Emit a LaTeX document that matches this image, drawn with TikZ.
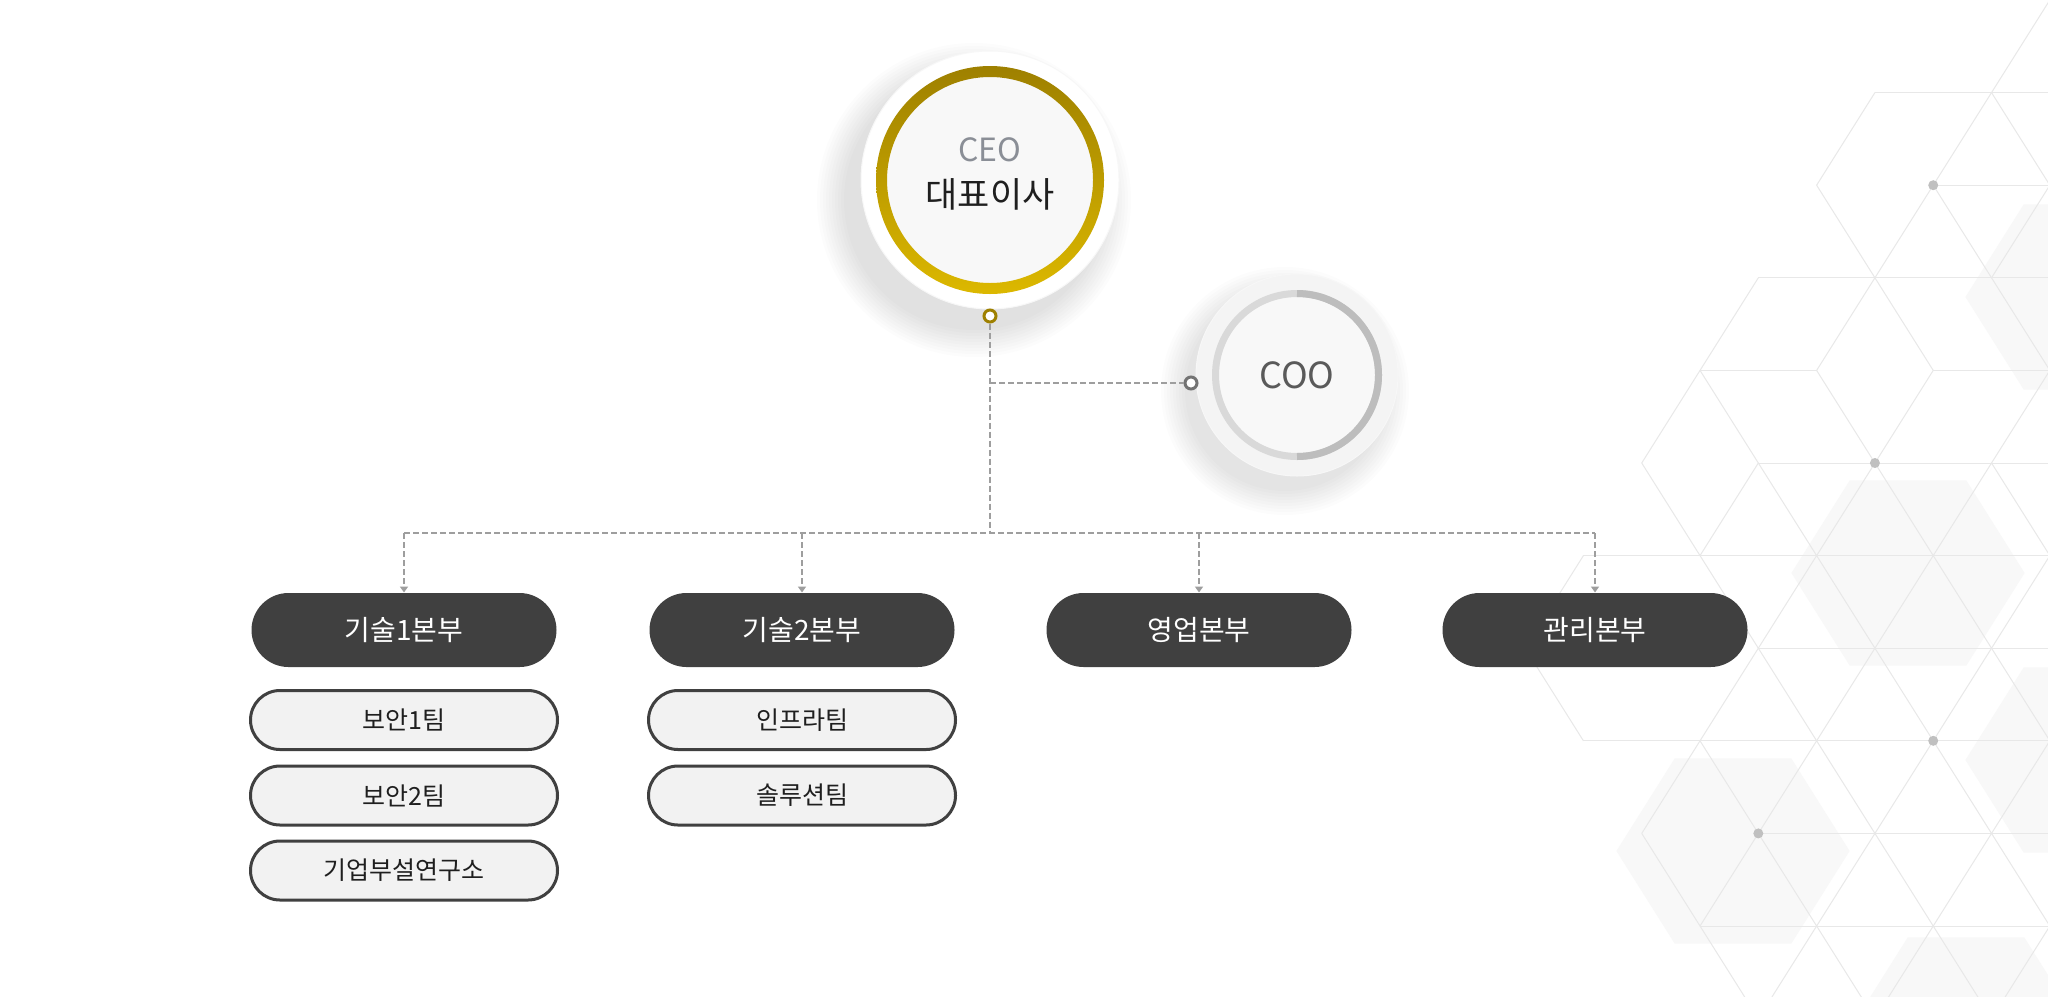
\documentclass[tikz,border=0pt]{standalone}
\usepackage{fontspec}
\setmainfont{Noto Sans CJK KR}
\usetikzlibrary{arrows.meta}

\definecolor{gold1}{RGB}{158,128,0}
\definecolor{gold2}{RGB}{220,184,0}
\definecolor{pilldark}{RGB}{64,64,64}
\definecolor{pilllight}{RGB}{242,242,242}
\definecolor{dashgray}{RGB}{158,158,158}
\definecolor{hexgray}{RGB}{232,232,232}
\definecolor{hexfill}{RGB}{248,248,248}
\definecolor{dotgray}{RGB}{192,192,192}
\definecolor{ceogray}{RGB}{138,142,150}
\definecolor{ceofill}{RGB}{248,248,248}
\definecolor{coofill}{RGB}{244,244,244}
\definecolor{cootext}{RGB}{90,90,90}

\tikzset{every picture/.style={line width=0.5pt},
  bonbu/.style={fill=pilldark, text=white, minimum width=152.5pt, minimum height=37pt, rounded corners=18.5pt, inner sep=0pt, font=\fontsize{14}{16}\selectfont},
  team/.style={draw=pilldark, line width=1.5pt, fill=pilllight, text=black!88, minimum width=153.5pt, minimum height=29.5pt, rounded corners=14.75pt, inner sep=0pt, font=\fontsize{12.5}{14}\selectfont},
  orgline/.style={dashgray, line width=0.75pt, dash pattern=on 3pt off 1.5pt},
  orgarrow/.style={orgline, -{Triangle[width=4pt,length=3pt]}},
  knot/.style={circle, draw, fill=white, line width=1.5pt, minimum size=6pt, inner sep=0pt},
  hexline/.style={hexgray, line width=0.5pt}}

\begin{document}
\begin{tikzpicture}[x=0.5pt,y=0.5pt,yscale=-1]
  \useasboundingbox (0,0) rectangle (2048,996);
  \fill[white] (0,0) rectangle (2048,996);

  % hexagon background
  \begin{scope}
    \clip (0,0) rectangle (2048,996);
    \foreach \cx/\cy in {2082/297, 1908/573, 1733/851, 2082/760, 1966/1030, 2140/1030}
      \fill[hexfill] (\cx+116.6,\cy) -- (\cx+58.3,\cy+92.6) -- (\cx-58.3,\cy+92.6) -- (\cx-116.6,\cy) -- (\cx-58.3,\cy-92.6) -- (\cx+58.3,\cy-92.6) -- cycle;
    \foreach \r in {5,...,11}{
      \pgfmathtruncatemacro\ks{mod(\r,2)}
      \foreach \i in {0,...,4}{
        \pgfmathtruncatemacro\k{\ks+2*\i}
        \draw[hexline] ({1700+58.3*\k},{92.6*\r}) -- ({1700+58.3*(\k+2)},{92.6*\r});
        \draw[hexline] ({1700+58.3*\k},{92.6*\r}) -- ({1700+58.3*(\k+1)},{92.6*(\r+1)});
        \ifnum\k>0 \draw[hexline] ({1700+58.3*\k},{92.6*\r}) -- ({1700+58.3*(\k-1)},{92.6*(\r+1)}); \fi
      }
    }
    \foreach \ka/\ra/\kb/\rb in {6/0/5/1, 6/0/7/1, 3/1/5/1, 5/1/7/1, 3/1/2/2, 5/1/4/2, 5/1/6/2, 7/1/6/2, 7/1/8/2,
        4/2/6/2, 6/2/8/2, 2/2/3/3, 4/2/3/3, 4/2/5/3, 6/2/5/3, 6/2/7/3, 8/2/7/3,
        1/3/3/3, 3/3/5/3, 5/3/7/3, 7/3/9/3, 1/3/0/4, 3/3/2/4, 3/3/4/4, 5/3/6/4, 7/3/6/4, 7/3/8/4,
        0/4/2/4, 4/4/6/4, 6/4/8/4, 0/4/1/5, 2/4/3/5, 4/4/3/5, 6/4/5/5, 6/4/7/5, 8/4/7/5, 0/4/-1/5,
        -1/5/0/6, -2/6/0/6, -2/6/-3/7, -3/7/-2/8, -2/8/0/8, 0/8/-1/9, -1/9/0/10}
      \draw[hexline] ({1700+58.3*\ka},{92.6*\ra}) -- ({1700+58.3*\kb},{92.6*\rb});
    \foreach \k/\r in {4/2, 3/5, 4/8, 1/9}
      \fill[dotgray] ({1700+58.3*\k},{92.6*\r}) circle (5);
  \end{scope}

  % CEO
  \coordinate (ceoc) at (990,180);
  \foreach \s in {0,...,9}
    \fill[black, opacity=0.01] ([shift={(-16,20)}]ceoc) circle ({130+3*\s});
  \fill[white] (ceoc) circle (129);
  \draw[black!3] (ceoc) circle (129);
  \node[circle, fill=ceofill, minimum size=103pt, inner sep=0pt] (ceo) at (ceoc) {};
  \shade[even odd rule, top color=gold1, bottom color=gold2] (ceoc) circle (114) (ceoc) circle (103);
  \node[text=ceogray, font=\fontsize{16}{18}\selectfont] (ceotitle) at (990,150) {CEO};
  \node[text=black!88, font=\fontsize{17.5}{20}\selectfont] (ceoname) at (990,194) {대표이사};

  % COO
  \coordinate (cooc) at (1297,375);
  \foreach \s in {0,...,8}
    \fill[black, opacity=0.01] ([shift={(-12,16)}]cooc) circle ({100+3*\s});
  \fill[coofill] (cooc) circle (101);
  \draw[black!3] (cooc) circle (101);
  \node[circle, fill=ceofill, minimum size=78pt, inner sep=0pt, text=cootext, font=\fontsize{18}{20}\selectfont] (coo) at (cooc) {COO};
  \draw[line width=3.5pt, black!15] (cooc) circle (81.5);
  \draw[line width=3.5pt, black!26] ([shift={(90:81.5)}]cooc) arc[start angle=90, end angle=-90, radius=81.5];

  \node[knot, draw=gold1] (ceodot) at (990,316) {};
  \node[knot, draw=black!55] (coodot) at (1191,383) {};

  \node[bonbu] (tech1) at (404,630) {기술1본부};
  \node[bonbu] (tech2) at (802,630) {기술2본부};
  \node[bonbu] (sales) at (1199,630) {영업본부};
  \node[bonbu] (admin) at (1595,630) {관리본부};

  \node[team] (sec1) at (404,720) {보안1팀};
  \node[team] (sec2) at (404,795.5) {보안2팀};
  \node[team] (lab) at (404,870.5) {기업부설연구소};
  \node[team] (infra) at (802,720) {인프라팀};
  \node[team] (solution) at (802,795.5) {솔루션팀};

  \coordinate (trunk) at (990,533);
  \draw[orgline] (ceodot) -- (trunk);
  \draw[orgline] (ceodot |- coodot) -- (coodot);
  \draw[orgline] (tech1 |- trunk) -- (admin |- trunk);
  \foreach \n in {tech1,tech2,sales,admin}
    \draw[orgarrow] (\n |- trunk) -- (\n.north);

\end{tikzpicture}
\end{document}
